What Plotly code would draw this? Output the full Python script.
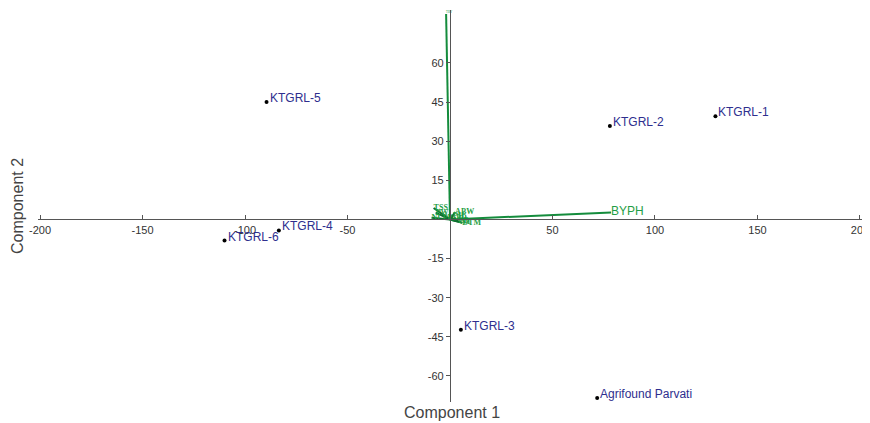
import plotly.graph_objects as go

# Scores (genotypes)
genotypes = ["KTGRL-1", "KTGRL-2", "KTGRL-5", "KTGRL-6", "KTGRL-4", "KTGRL-3", "Agrifound Parvati"]
comp1 = [129.5, 78.0, -89.5, -110.0, -83.5, 5.3, 71.8]
comp2 = [39.6, 35.8, 45.0, -8.1, -4.2, -42.3, -68.5]

# Loadings (variables)
big_vars = ["BYPH", "TBY"]
big_x = [78.6, -1.9]
big_y = [2.7, 78.8]

small_vars = ["TSS", "PW", "NLPP", "ABW", "PH", "PD", "ED", "NT", "DTM"]
small_x = [-8.0, -7.0, -9.0, 2.5, 1.5, 3.0, 4.0, 5.0, 6.0]
small_y = [4.4, 2.6, 0.6, 2.8, 1.5, 0.5, -0.5, -1.0, -1.3]

x_ticks = [-200, -150, -100, -50, 50, 100, 150, 200]
y_ticks = [-60, -45, -30, -15, 15, 30, 45, 60]

x_range = [-201, 201]
y_range = [-70.0, 80.3]

line_green = "#148c3c"
text_green = "#1f9e45"
dark_green = "#0c6e2e"

fig = go.Figure()

def seg(xs, ys):
    sx, sy = [], []
    for a, b in zip(xs, ys):
        sx += [0, a, None]
        sy += [0, b, None]
    return sx, sy

sx, sy = seg(small_x, small_y)
fig.add_trace(go.Scatter(x=sx, y=sy, mode="lines",
                         line=dict(color=dark_green, width=2), hoverinfo="skip", showlegend=False))
fig.add_trace(go.Scatter(x=small_x, y=small_y, mode="text", text=["<b>%s</b>" % v for v in small_vars],
                         textposition="middle right", cliponaxis=False,
                         textfont=dict(family="Liberation Serif", size=8, color=text_green),
                         showlegend=False))

bx, by = seg(big_x, big_y)
fig.add_trace(go.Scatter(x=bx, y=by, mode="lines",
                         line=dict(color=line_green, width=2), hoverinfo="skip", showlegend=False))
fig.add_trace(go.Scatter(x=big_x[:1], y=big_y[:1], mode="text", text=big_vars[:1],
                         textposition="middle right", cliponaxis=False,
                         textfont=dict(family="Liberation Sans", size=12, color=text_green),
                         showlegend=False))
fig.add_trace(go.Scatter(x=big_x[1:], y=big_y[1:], mode="text", text=big_vars[1:],
                         textposition="top right", cliponaxis=False,
                         textfont=dict(family="Liberation Serif", size=3, color=text_green),
                         showlegend=False))

fig.add_trace(go.Scatter(x=comp1, y=comp2, mode="markers", cliponaxis=False,
                         marker=dict(color="black", size=4), text=genotypes,
                         showlegend=False))

x_pos = (0 - y_range[0]) / (y_range[1] - y_range[0])
y_pos = (0 - x_range[0]) / (x_range[1] - x_range[0])

annotations = [
    dict(x=gx, y=gy, xref="x", yref="y", text=name, showarrow=False,
         xanchor="left", yanchor="middle", xshift=1, yshift=4,
         font=dict(family="Liberation Sans", size=12, color="#2e2e8e"))
    for name, gx, gy in zip(genotypes, comp1, comp2)
]
annotations += [
    dict(text="Component 1", xref="paper", yref="paper", x=0.503, y=-0.028,
         yanchor="middle", showarrow=False, font=dict(size=16, color="#444")),
    dict(text="Component 2", xref="paper", yref="paper", x=-0.0255, y=0.5,
         textangle=-90, showarrow=False, xanchor="center", font=dict(size=16, color="#444")),
]

# page body has an 8px default margin, so the figure is drawn 8px smaller
fig.update_layout(
    width=862, height=415,
    margin=dict(l=30, r=8, t=2, b=21, autoexpand=False),
    plot_bgcolor="white", paper_bgcolor="white",
    font=dict(family="Liberation Sans", size=11, color="#333"),
    xaxis=dict(range=x_range, anchor="free", position=x_pos, showline=True, automargin=False,
               linecolor="#555", linewidth=1.2, ticks="inside", ticklen=4, tickcolor="#555",
               tickvals=x_ticks, ticktext=[str(v) for v in x_ticks],
               showgrid=False, zeroline=False),
    yaxis=dict(range=y_range, anchor="free", position=y_pos, showline=True, automargin=False,
               linecolor="#555", linewidth=1.2, ticks="outside", ticklen=4, tickcolor="#555",
               tickvals=y_ticks, ticktext=[str(v) for v in y_ticks],
               showgrid=False, zeroline=False),
    annotations=annotations,
)

fig.write_html("out.html")
